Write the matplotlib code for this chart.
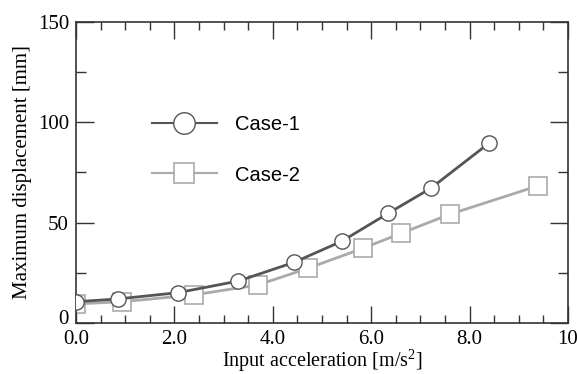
import matplotlib
matplotlib.use("Agg")
import matplotlib.pyplot as plt
from matplotlib.ticker import MultipleLocator, FixedLocator, FixedFormatter
from matplotlib.transforms import ScaledTranslation

case1_x = [0.0, 0.86, 2.07, 3.30, 4.43, 5.40, 6.35, 7.21, 8.39]
case1_y = [10.6, 12.0, 15.1, 20.9, 30.2, 40.7, 54.7, 67.1, 89.5]
case2_x = [0.0, 0.94, 2.39, 3.69, 4.71, 5.83, 6.61, 7.60, 9.40]
case2_y = [9.5, 10.6, 14.0, 18.9, 27.2, 37.2, 44.7, 54.2, 68.4]

xticks = [0, 2, 4, 6, 8, 10]
xticklabels = ["0.0", "2.0", "4.0", "6.0", "8.0", "10"]
yticks = [0, 50, 100, 150]
yticklabels = ["0", "50", "100", "150"]

dark = "#555555"
light = "#aaaaaa"

plt.rcParams["mathtext.fontset"] = "custom"
plt.rcParams["mathtext.rm"] = "Liberation Serif"
plt.rcParams["mathtext.it"] = "Liberation Serif"

fig = plt.figure(figsize=(5.77, 3.74), dpi=100)
ax = fig.add_axes([0.1317, 0.1364, 0.8526, 0.8048])

ax.plot(case1_x, case1_y, color=dark, lw=2.0, marker="o", ms=11,
        mfc="white", mec=dark, mew=1.0, label="Case-1", zorder=3)
ax.plot(case2_x, case2_y, color=light, lw=2.0, marker="s", ms=12.5,
        mfc="white", mec=light, mew=1.2, label="Case-2", zorder=2)

ax.set_xlim(0, 10)
ax.set_ylim(0, 150)
ax.xaxis.set_major_locator(FixedLocator(xticks))
ax.xaxis.set_major_formatter(FixedFormatter(xticklabels))
ax.xaxis.set_minor_locator(MultipleLocator(0.5))
ax.yaxis.set_major_locator(FixedLocator(yticks))
ax.yaxis.set_major_formatter(FixedFormatter(yticklabels))
ax.yaxis.set_minor_locator(MultipleLocator(25))

ax.tick_params(which="both", direction="in", top=True, right=True,
               color="#333333", width=1.0)
ax.tick_params(axis="x", which="major", length=12, pad=5)
ax.tick_params(axis="x", which="minor", length=6)
ax.tick_params(axis="y", which="major", length=13, pad=5)
ax.tick_params(axis="y", which="minor", length=7)
for lab in ax.get_xticklabels() + ax.get_yticklabels():
    lab.set_fontfamily("Liberation Serif")
    lab.set_fontsize(15)
for s in ax.spines.values():
    s.set_color("#333333")
    s.set_linewidth(1.2)

# nudge the y "0" label slightly up, as in the reference
ylab0 = ax.yaxis.get_major_ticks()[0].label1
ylab0.set_transform(ylab0.get_transform() +
                    ScaledTranslation(0, 4 / 72, fig.dpi_scale_trans))

ax.set_xlabel("Input acceleration [m/s$^2$]", fontfamily="Liberation Serif",
              fontsize=14.5, labelpad=-1)
ax.set_ylabel("Maximum displacement [mm]", fontfamily="Liberation Serif",
              fontsize=15, labelpad=4)

leg = ax.legend(loc="upper left", bbox_to_anchor=(0.155, 0.69), frameon=False,
                prop={"family": "Liberation Sans", "size": 14.5},
                markerscale=1.0, handlelength=3.2, handletextpad=0.9,
                labelspacing=1.55, borderpad=0, borderaxespad=0)
hl = leg.get_lines()
for h in hl:
    h.set_linewidth(1.5)
hl[0].set_markersize(15.5)
hl[1].set_markersize(14.5)

fig.savefig("out.png", dpi=100)
